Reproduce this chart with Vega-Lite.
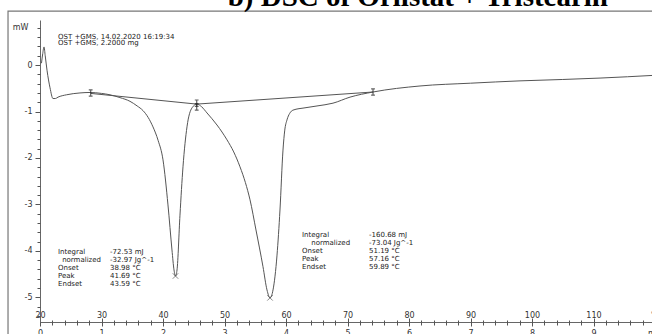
{
  "$schema": "https://vega.github.io/schema/vega-lite/v6.json",
  "width": 615,
  "height": 302,
  "autosize": "none",
  "padding": {"left": 40, "top": 20, "right": -3, "bottom": 12},
  "background": "white",
  "title": {"text": "b) DSC of Orlistat + Tristearin", "font": "Liberation Serif", "fontSize": 29, "fontWeight": "bold", "color": "#000", "anchor": "end", "frame": "group", "baseline": "alphabetic", "offset": 0, "dx": -47, "dy": 24},
  "config": {"view": {"stroke": null}, "axis": {"grid": false, "labelFont": "DejaVu Sans", "titleFont": "DejaVu Sans", "labelColor": "#333", "titleColor": "#333", "labelFontSize": 8, "domainColor": "#666", "tickColor": "#555"}},
  "datasets": {
    "frame": [{"x1": 14.8, "x2": 130, "y1": 1.16, "y2": -7}],
    "dsc": [
      {"T": 20.24, "mW": 0.04}, {"T": 20.45, "mW": 0.25}, {"T": 20.65, "mW": 0.39}, {"T": 20.85, "mW": 0.2},
      {"T": 21.14, "mW": -0.11}, {"T": 21.63, "mW": -0.49}, {"T": 22.11, "mW": -0.72}, {"T": 22.5, "mW": -0.72},
      {"T": 22.93, "mW": -0.69}, {"T": 24.3, "mW": -0.64}, {"T": 26.5, "mW": -0.6}, {"T": 28.13, "mW": -0.59},
      {"T": 30.0, "mW": -0.61}, {"T": 31.38, "mW": -0.64}, {"T": 33.0, "mW": -0.70}, {"T": 34.63, "mW": -0.78},
      {"T": 35.8, "mW": -0.88}, {"T": 36.75, "mW": -0.98}, {"T": 37.6, "mW": -1.13}, {"T": 38.37, "mW": -1.33},
      {"T": 39.2, "mW": -1.62}, {"T": 40.0, "mW": -2.04}, {"T": 40.81, "mW": -3.01}, {"T": 41.46, "mW": -3.98},
      {"T": 41.79, "mW": -4.41}, {"T": 42.03, "mW": -4.54}, {"T": 42.28, "mW": -4.41}, {"T": 42.76, "mW": -3.23},
      {"T": 43.25, "mW": -2.19}, {"T": 43.9, "mW": -1.33}, {"T": 44.72, "mW": -0.92}, {"T": 45.53, "mW": -0.84},
      {"T": 46.3, "mW": -0.9}, {"T": 47.15, "mW": -1.03}, {"T": 48.78, "mW": -1.29}, {"T": 50.41, "mW": -1.61},
      {"T": 51.5, "mW": -1.87}, {"T": 52.52, "mW": -2.19}, {"T": 53.4, "mW": -2.53}, {"T": 54.15, "mW": -2.9},
      {"T": 55.12, "mW": -3.55}, {"T": 56.26, "mW": -4.34}, {"T": 56.91, "mW": -4.84}, {"T": 57.4, "mW": -5.01},
      {"T": 57.89, "mW": -4.84}, {"T": 58.54, "mW": -4.09}, {"T": 59.02, "mW": -3.12}, {"T": 59.51, "mW": -1.83},
      {"T": 59.8, "mW": -1.4}, {"T": 60.16, "mW": -1.18}, {"T": 60.6, "mW": -1.04}, {"T": 61.14, "mW": -0.97},
      {"T": 63.09, "mW": -0.92}, {"T": 65.04, "mW": -0.88}, {"T": 67.64, "mW": -0.82}, {"T": 70.41, "mW": -0.69},
      {"T": 74.15, "mW": -0.58}, {"T": 81.79, "mW": -0.45}, {"T": 90.0, "mW": -0.39}, {"T": 98.05, "mW": -0.34},
      {"T": 105.0, "mW": -0.31}, {"T": 111.06, "mW": -0.28}, {"T": 120.0, "mW": -0.22}
    ],
    "baselines": [
      {"seg": "a", "T": 28.24, "mW": -0.61}, {"seg": "a", "T": 45.48, "mW": -0.84},
      {"seg": "b", "T": 45.48, "mW": -0.84}, {"seg": "b", "T": 74.15, "mW": -0.58}
    ],
    "onsets": [
      {"T": 28.24, "mW": -0.6}, {"T": 45.48, "mW": -0.82}, {"T": 45.48, "mW": -0.9}, {"T": 74.15, "mW": -0.58}
    ],
    "peaks": [
      {"T": 42.03, "mW": -4.54}, {"T": 57.4, "mW": -5.01}
    ],
    "notes": [
      {"T": 22.93, "mW": 0.61, "text": "OST +GMS, 14.02.2020 16:19:34"},
      {"T": 22.93, "mW": 0.47, "text": "OST +GMS, 2.2000 mg"},
      {"T": 22.93, "mW": -4.02, "text": "Integral"},
      {"T": 23.6, "mW": -4.19, "text": "normalized"},
      {"T": 22.93, "mW": -4.37, "text": "Onset"},
      {"T": 22.93, "mW": -4.54, "text": "Peak"},
      {"T": 22.93, "mW": -4.72, "text": "Endset"},
      {"T": 31.38, "mW": -4.02, "text": "-72.53 mJ"},
      {"T": 31.38, "mW": -4.19, "text": "-32.97 Jg^-1"},
      {"T": 31.38, "mW": -4.37, "text": "38.98 °C"},
      {"T": 31.38, "mW": -4.54, "text": "41.69 °C"},
      {"T": 31.38, "mW": -4.72, "text": "43.59 °C"},
      {"T": 62.6, "mW": -3.65, "text": "Integral"},
      {"T": 64.1, "mW": -3.83, "text": "normalized"},
      {"T": 62.6, "mW": -4.01, "text": "Onset"},
      {"T": 62.6, "mW": -4.18, "text": "Peak"},
      {"T": 62.6, "mW": -4.35, "text": "Endset"},
      {"T": 73.5, "mW": -3.65, "text": "-160.68 mJ"},
      {"T": 73.5, "mW": -3.83, "text": "-73.04 Jg^-1"},
      {"T": 73.5, "mW": -4.01, "text": "51.19 °C"},
      {"T": 73.5, "mW": -4.18, "text": "57.16 °C"},
      {"T": 73.5, "mW": -4.35, "text": "59.89 °C"}
    ]
  },
  "resolve": {"axis": {"x": "independent", "y": "independent"}},
  "layer": [
    {
      "data": {"name": "frame"},
      "mark": {"type": "rect", "fill": null, "stroke": "#777", "strokeWidth": 1.2, "clip": false},
      "encoding": {
        "x": {"field": "x1", "type": "quantitative", "scale": {"domain": [20, 120], "nice": false, "zero": false}, "axis": null},
        "x2": {"field": "x2"},
        "y": {"field": "y1", "type": "quantitative", "scale": {"domain": [-5.53, 0.97], "nice": false, "zero": false}, "axis": null},
        "y2": {"field": "y2"}
      }
    },
    {
      "data": {"name": "dsc"},
      "mark": {"type": "line", "color": "#555", "strokeWidth": 1, "interpolate": "monotone"},
      "encoding": {
        "x": {"field": "T", "type": "quantitative", "scale": {"domain": [20, 120], "nice": false, "zero": false},
          "axis": {"orient": "bottom", "title": null, "values": [20, 30, 40, 50, 60, 70, 80, 90, 100, 110, 120],
            "labelExpr": "datum.value == 120 ? 'min' : '' + (datum.value - 20) / 10",
            "ticks": false, "domain": true, "labelPadding": 7, "labelBaseline": "top", "labelFlush": false, "labelOverlap": false, "labelBound": false}},
        "y": {"field": "mW", "type": "quantitative", "scale": {"domain": [-5.53, 0.97], "nice": false, "zero": false},
          "axis": {"orient": "left", "values": [0, -1, -2, -3, -4, -5], "labelExpr": "'' + datum.value", "tickSize": 5, "labelPadding": 3,
            "domain": true, "title": "mW", "titleAngle": 0, "titleX": -20, "titleY": 7, "titleFontSize": 8, "titleFontWeight": "normal",
            "titleAlign": "center", "titleBaseline": "middle", "labelOverlap": false}}
      }
    },
    {
      "data": {"name": "baselines"},
      "mark": {"type": "line", "color": "#555", "strokeWidth": 1},
      "encoding": {
        "detail": {"field": "seg"},
        "x": {"field": "T", "type": "quantitative",
          "axis": {"orient": "bottom", "title": null, "values": [20, 30, 40, 50, 60, 70, 80, 90, 100, 110, 120],
            "labelExpr": "datum.value == 120 ? '°C' : datum.label",
            "domain": false, "ticks": true, "tickSize": 8, "offset": -4, "labelPadding": -9, "labelBaseline": "alphabetic",
            "labelFlush": false, "labelOverlap": false, "labelBound": false}},
        "y": {"field": "mW", "type": "quantitative",
          "axis": {"orient": "left", "title": null, "labels": false, "domain": false, "tickSize": 3,
            "values": [0.8, 0.6, 0.4, 0.2, -0.2, -0.4, -0.6, -0.8, -1.2, -1.4, -1.6, -1.8, -2.2, -2.4, -2.6, -2.8, -3.2, -3.4, -3.6, -3.8, -4.2, -4.4, -4.6, -4.8, -5.2, -5.4]}}
      }
    },
    {
      "data": {"name": "onsets"},
      "mark": {"type": "point", "shape": "M0,-1V1M-0.6,-1H0.6M-0.6,1H0.6", "size": 40, "stroke": "#222", "strokeWidth": 1.2, "filled": false},
      "encoding": {
        "x": {"field": "T", "type": "quantitative",
          "axis": {"orient": "bottom", "title": null, "labels": false, "domain": false, "tickSize": 5, "offset": -2,
            "values": [22, 24, 26, 28, 32, 34, 36, 38, 42, 44, 46, 48, 52, 54, 56, 58, 62, 64, 66, 68, 72, 74, 76, 78, 82, 84, 86, 88, 92, 94, 96, 98, 102, 104, 106, 108, 112, 114, 116, 118]}},
        "y": {"field": "mW", "type": "quantitative", "axis": null}
      }
    },
    {
      "data": {"name": "peaks"},
      "mark": {"type": "point", "shape": "M-1,-1L1,1M1,-1L-1,1", "size": 30, "stroke": "#444", "strokeWidth": 0.9, "filled": false},
      "encoding": {
        "x": {"field": "T", "type": "quantitative", "axis": null},
        "y": {"field": "mW", "type": "quantitative", "axis": null}
      }
    },
    {
      "data": {"name": "notes"},
      "mark": {"type": "text", "align": "left", "baseline": "middle", "font": "DejaVu Sans", "fontSize": 7, "color": "#222"},
      "encoding": {
        "x": {"field": "T", "type": "quantitative", "axis": null},
        "y": {"field": "mW", "type": "quantitative", "axis": null},
        "text": {"field": "text"}
      }
    }
  ]
}
